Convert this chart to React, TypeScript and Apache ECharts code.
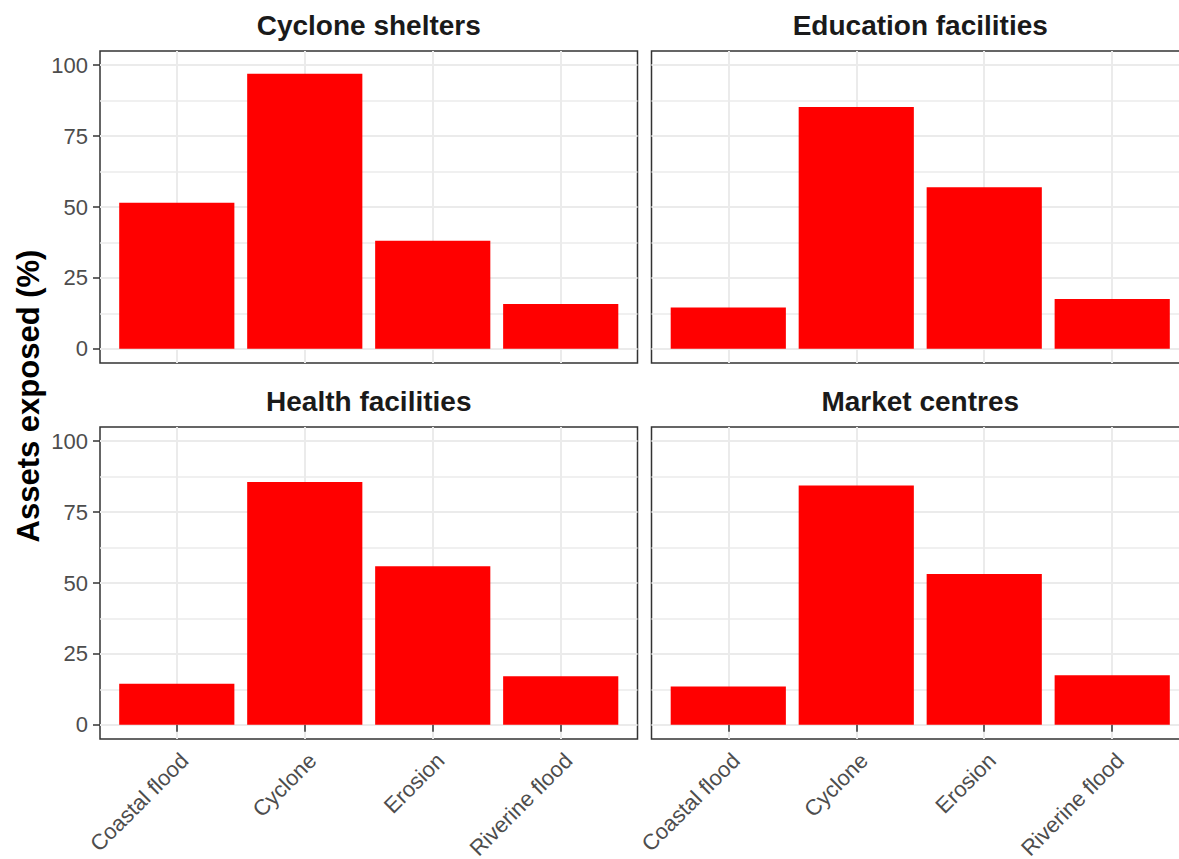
import React, { useEffect, useRef } from "react";
import * as echarts from "echarts";

// Hazard categories on the x axis
const hazards = ["Coastal flood", "Cyclone", "Erosion", "Riverine flood"];
const hazardPositions = [1, 2, 3, 4];

// Facet titles
const panelTitles = [
  "Cyclone shelters",
  "Education facilities",
  "Health facilities",
  "Market centres",
];

// Share of assets exposed (%) per hazard
const cycloneShelters = [51.5, 97.0, 38.1, 15.8];
const educationFacilities = [14.6, 85.3, 57.0, 17.6];
const healthFacilities = [14.5, 85.6, 55.9, 17.1];
const marketCentres = [13.5, 84.4, 53.2, 17.5];

// Y axis breaks
const yMajorTicks = [0, 25, 50, 75, 100];
const yMinorTicks = [12.5, 37.5, 62.5, 87.5];

const yTitle = "Assets exposed (%)";

const FONT = "'Liberation Sans', Arial, Helvetica, sans-serif";

export default function App() {
  const ref = useRef<HTMLDivElement>(null);

  useEffect(() => {
    if (!ref.current) return;
    const chart = echarts.init(ref.current, undefined, { renderer: "svg" });

    const panelValues = [cycloneShelters, educationFacilities, healthFacilities, marketCentres];

    // facet layout (2 x 2); the right column runs slightly past the visible area
    const panelW = 537.5;
    const panelH = 312;
    const colLeft = [100, 651.5];
    const rowTop = [51, 427];
    const xMin = 0.4;
    const xMax = 4.6;
    const unitPx = panelW / (xMax - xMin);
    const barWidth = 0.9 * unitPx;

    const gridColor = "#ebebeb";
    const inkColor = "#333333";
    const labelColor = "#4d4d4d";

    const panels = panelTitles.map((t, i) => ({
      title: t,
      col: i % 2,
      row: Math.floor(i / 2),
      values: panelValues[i],
    }));

    const grid = panels.map((p) => ({
      left: colLeft[p.col],
      top: rowTop[p.row],
      width: panelW,
      height: panelH,
      show: true,
      borderColor: inkColor,
      borderWidth: 1.5,
      backgroundColor: "transparent",
      containLabel: false,
      outerBoundsMode: "none",
    }));

    const xAxis = panels.map((p, i) => {
      const bottom = p.row === 1;
      return {
        type: "value",
        gridIndex: i,
        min: xMin,
        max: xMax,
        axisLine: { show: false },
        axisTick: {
          show: bottom,
          customValues: hazardPositions,
          length: 7,
          lineStyle: { color: inkColor, width: 1.5 },
        },
        axisLabel: {
          show: bottom,
          customValues: hazardPositions,
          formatter: (v: number) => hazards[Math.round(v) - 1] ?? "",
          rotate: 45,
          verticalAlign: "top",
          fontSize: 22,
          fontFamily: FONT,
          color: labelColor,
          margin: 10,
        },
        splitLine: { show: true, lineStyle: { color: gridColor, width: 2 } },
      };
    });

    const yAxis: any[] = [];
    panels.forEach((p, i) => {
      const left = p.col === 0;
      yAxis.push({
        type: "value",
        gridIndex: i,
        min: -5,
        max: 105,
        axisLine: { show: false },
        axisTick: {
          show: left,
          customValues: yMajorTicks,
          length: 7,
          lineStyle: { color: inkColor, width: 1.5 },
        },
        axisLabel: {
          show: left,
          customValues: yMajorTicks,
          fontSize: 22,
          fontFamily: FONT,
          color: labelColor,
          margin: 12,
        },
        splitLine: { show: true, lineStyle: { color: gridColor, width: 2 } },
      });
      // minor grid lines
      yAxis.push({
        type: "value",
        gridIndex: i,
        min: -5,
        max: 105,
        axisLine: { show: false },
        axisTick: { show: false, customValues: yMinorTicks },
        axisLabel: { show: false, customValues: yMinorTicks },
        splitLine: { show: true, lineStyle: { color: gridColor, width: 1.5 } },
      });
    });

    const series = panels.map((p, i) => ({
      type: "bar",
      name: p.title,
      xAxisIndex: i,
      yAxisIndex: 2 * i,
      barWidth,
      silent: true,
      itemStyle: { color: "#ff0000" },
      data: p.values.map((v, k) => [hazardPositions[k], v]),
    }));

    const graphic: any[] = panels.map((p) => ({
      type: "text",
      x: colLeft[p.col] + panelW / 2,
      y: rowTop[p.row] - 26,
      style: {
        text: p.title,
        font: `bold 28px ${FONT}`,
        fill: "#1a1a1a",
        align: "center",
        verticalAlign: "middle",
      },
    }));
    graphic.push({
      type: "text",
      x: 28,
      y: 396,
      rotation: Math.PI / 2,
      style: {
        text: yTitle,
        font: `bold 31px ${FONT}`,
        fill: "#000000",
        align: "center",
        verticalAlign: "middle",
      },
    });

    chart.setOption({
      animation: false,
      backgroundColor: "#ffffff",
      grid,
      xAxis,
      yAxis,
      series,
      graphic,
    });

    return () => chart.dispose();
  }, []);

  return (
    <div
      ref={ref}
      style={{ position: "fixed", left: 0, top: 0, width: 1200, height: 859, background: "#fff" }}
    />
  );
}
